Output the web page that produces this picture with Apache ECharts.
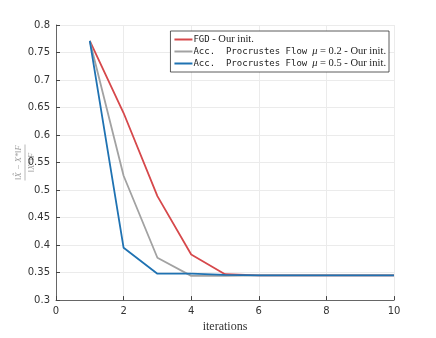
<!DOCTYPE html>
<html lang="en">
<head>
  <meta charset="UTF-8">
  <script src="https://cdn.jsdelivr.net/npm/echarts@6/dist/echarts.min.js"></script>
  <title>iterations</title>
  <style>
    html, body { margin: 0; padding: 0; background: #fff; }
    #main { width: 436px; height: 338px; }
  </style>
</head>
<body>
  <div id="main"></div>
  <script>
    // data
    const iterations = [1, 2, 3, 4, 5, 6, 7, 8, 9, 10];
    const fgd = [0.771, 0.640, 0.489, 0.383, 0.347, 0.345, 0.345, 0.345, 0.345, 0.345];
    const pf02 = [0.771, 0.526, 0.377, 0.344, 0.344, 0.345, 0.345, 0.345, 0.345, 0.345];
    const pf05 = [0.771, 0.395, 0.348, 0.348, 0.346, 0.345, 0.345, 0.345, 0.345, 0.345];
    const seriesNames = ['fgd', 'pf02', 'pf05'];
    const yTicks = [0.3, 0.35, 0.4, 0.45, 0.5, 0.55, 0.6, 0.65, 0.7, 0.75, 0.8];

    const serif = '"Liberation Serif", "DejaVu Serif", serif';
    const mono = '"DejaVu Sans Mono", "Liberation Mono", monospace';

    const legendText = {
      fgd: '{m|FGD} {s|- Our init.}',
      pf02: '{m|Acc.  Procrustes Flow}  {i|μ} {s|= 0.2 - Our init.}',
      pf05: '{m|Acc.  Procrustes Flow}  {i|μ} {s|= 0.5 - Our init.}'
    };

    const pair = arr => iterations.map((x, i) => [x, arr[i]]);
    const colors = ['#d6484b', '#a2a2a2', '#1f72b2'];
    const dataSets = [fgd, pf02, pf05];

    const chart = echarts.init(document.getElementById('main'));
    chart.setOption({
      animation: false,
      grid: { left: 56, right: 42, top: 25, bottom: 37 },
      legend: {
        right: 47, top: 31,
        orient: 'vertical',
        itemWidth: 18, itemHeight: 2, itemGap: 1,
        icon: 'rect',
        backgroundColor: '#fff',
        borderColor: '#333', borderWidth: 0.8, borderRadius: 0,
        padding: [3, 3, 3, 4],
        formatter: n => legendText[n],
        textStyle: {
          fontSize: 9, color: '#222', padding: [0, 0, 0, -4],
          rich: {
            m: { fontFamily: mono, fontSize: 9, color: '#222' },
            s: { fontFamily: serif, fontSize: 10.5, color: '#222' },
            i: { fontFamily: serif, fontSize: 10.5, fontStyle: 'italic', color: '#222' }
          }
        }
      },
      xAxis: {
        type: 'value', min: 0, max: 10, interval: 2,
        name: 'iterations', nameLocation: 'middle', nameGap: 17,
        nameTextStyle: { fontFamily: serif, fontSize: 12, color: '#333' },
        axisLine: { onZero: false, lineStyle: { color: '#444', width: 0.8 } },
        axisTick: { inside: true, length: 4, lineStyle: { color: '#444' } },
        axisLabel: { fontSize: 10, color: '#333', margin: 6, fontFamily: '"DejaVu Sans", sans-serif' },
        splitLine: { show: true, lineStyle: { color: '#ebebeb', width: 1 } }
      },
      yAxis: {
        type: 'value', min: 0.3, max: 0.8, interval: 0.05,
        axisLine: { show: true, onZero: false, lineStyle: { color: '#444', width: 0.8 } },
        axisTick: { show: true, inside: true, length: 4, lineStyle: { color: '#444' } },
        axisLabel: {
          fontSize: 10, color: '#333', margin: 6, fontFamily: '"DejaVu Sans", sans-serif',
          formatter: v => {
            const t = yTicks.find(k => Math.abs(k - v) < 1e-6);
            return t === undefined ? '' : String(t);
          }
        },
        splitLine: { show: true, lineStyle: { color: '#ebebeb', width: 1 } }
      },
      graphic: [{
        type: 'group',
        left: 14, top: 142,
        rotation: Math.PI / 2,
        children: [
          { type: 'text', x: 0, y: -12, style: { text: '‖X̂ − X*‖F', font: 'italic 8.5px ' + serif, fill: '#999', align: 'center' } },
          { type: 'line', shape: { x1: -18, y1: -1, x2: 18, y2: -1 }, style: { stroke: '#999', lineWidth: 0.7 } },
          { type: 'text', x: 0, y: 1, style: { text: '‖X*‖F', font: 'italic 8.5px ' + serif, fill: '#999', align: 'center' } }
        ]
      }],
      series: seriesNames.map((n, k) => ({
        name: n,
        type: 'line',
        data: pair(dataSets[k]),
        symbol: 'none',
        z: 3 + k,
        lineStyle: { color: colors[k], width: 1.8 },
        itemStyle: { color: colors[k] }
      }))
    });
  </script>
</body>
</html>
